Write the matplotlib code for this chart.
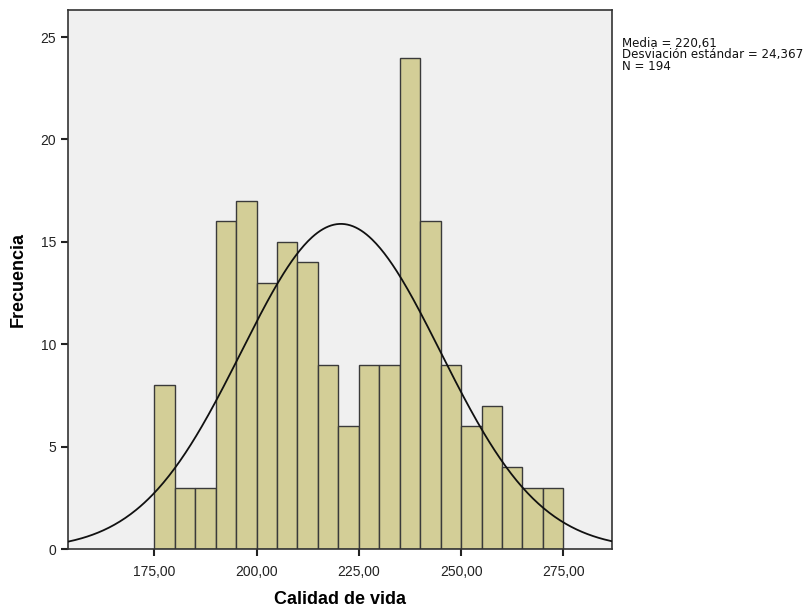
import numpy as np
import matplotlib
matplotlib.use('Agg')
import matplotlib.pyplot as plt

plt.rcParams['font.family'] = ['Liberation Sans', 'DejaVu Sans']

# Histograma "Calidad de vida" (SPSS)
bin_edges = [175, 180, 185, 190, 195, 200, 205, 210, 215, 220, 225,
             230, 235, 240, 245, 250, 255, 260, 265, 270, 275]
counts = [8, 3, 3, 16, 17, 13, 15, 14, 9, 6, 9, 9, 24, 16, 9, 6, 7, 4, 3, 3]

media = 220.61
desv = 24.367
n = 194

x_ticks = [175, 200, 225, 250, 275]
x_tick_labels = ['175,00', '200,00', '225,00', '250,00', '275,00']
y_ticks = [0, 5, 10, 15, 20, 25]

fig = plt.figure(figsize=(8.09, 6.09), dpi=100)
ax = fig.add_axes([0.0841, 0.098, 0.6724, 0.8856])
ax.set_facecolor('#F0F0F0')

left = np.array(bin_edges[:-1])
widths = np.diff(bin_edges)
ax.bar(left, counts, width=widths, align='edge', color='#D3CE97',
       edgecolor='#3A3A3A', linewidth=1.0, zorder=2)

# curva normal con media, desviación y N
bw = widths[0]
xs = np.linspace(153.9, 286.9, 400)
ys = n * bw / (desv * np.sqrt(2 * np.pi)) * np.exp(-0.5 * ((xs - media) / desv) ** 2)
ax.plot(xs, ys, color='#111111', linewidth=1.3, zorder=3)

ax.set_xlim(153.9, 286.9)
ax.set_ylim(0, 26.32)
ax.set_xticks(x_ticks)
ax.set_xticklabels(x_tick_labels)
ax.set_yticks(y_ticks)
ax.tick_params(axis='both', direction='out', length=5, width=1.5, labelsize=10,
               colors='#222222')
ax.tick_params(axis='x', pad=6)
for s in ax.spines.values():
    s.set_color('#333333')
    s.set_linewidth(1.2)

ax.set_xlabel('Calidad de vida', fontsize=13, fontweight='bold', labelpad=9)
ax.set_ylabel('Frecuencia', fontsize=13, fontweight='bold', labelpad=10)

fig.text(0.769, 0.940, 'Media = 220,61\nDesviación estándar = 24,367\nN = 194',
         fontsize=8.6, va='top', ha='left', linespacing=0.88, color='#111111',
         family='DejaVu Sans')

fig.savefig('out.png', dpi=100)
